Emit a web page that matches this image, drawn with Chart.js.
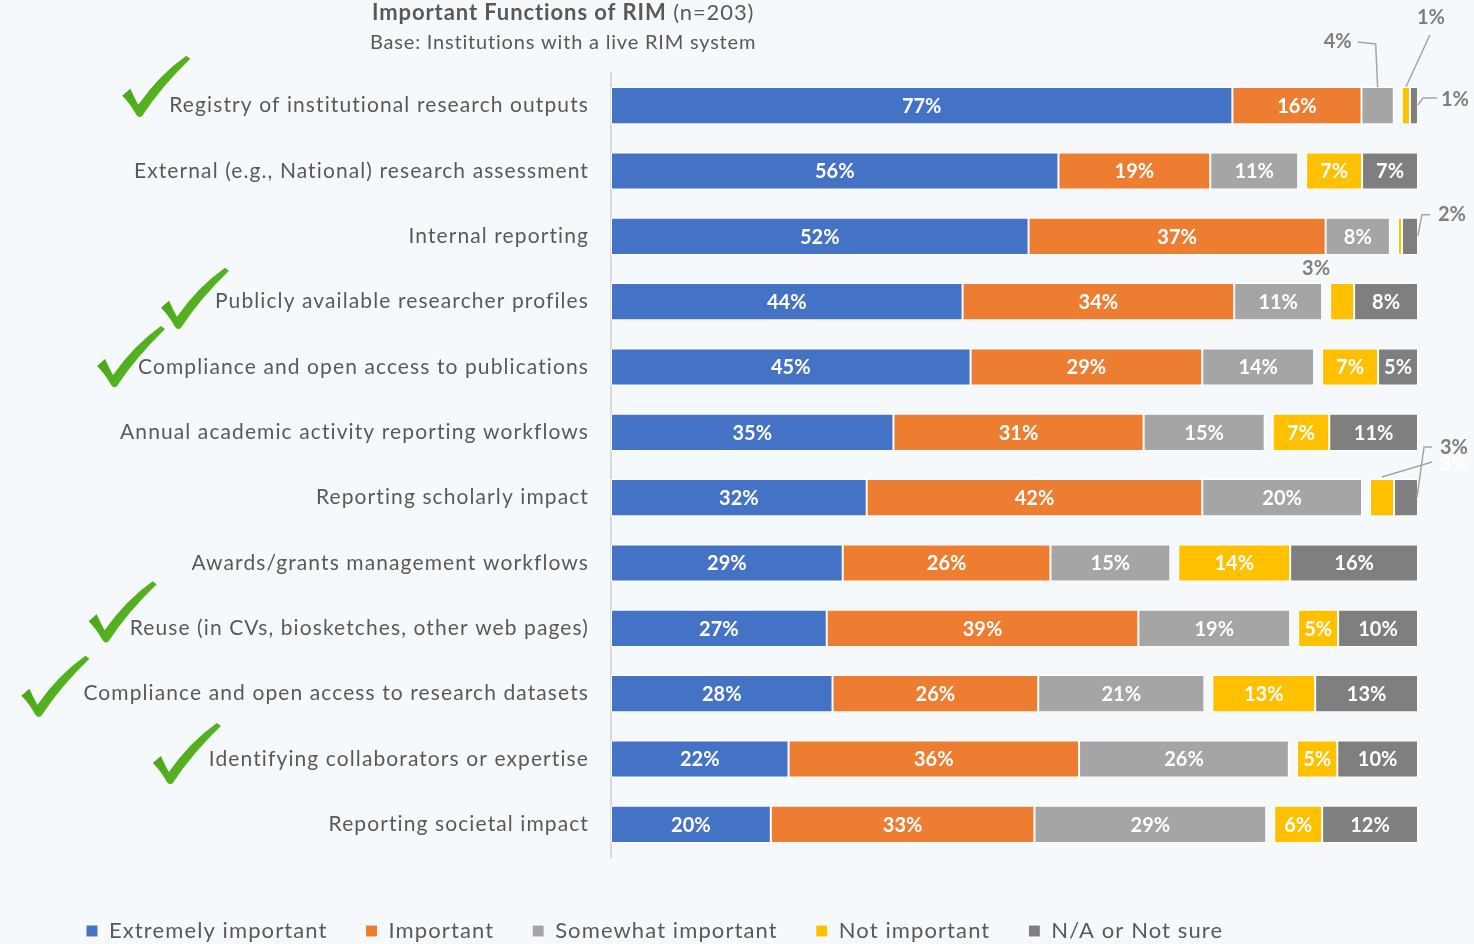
<!DOCTYPE html>
<html>
<head>
<meta charset="utf-8">
<script src="https://cdn.jsdelivr.net/npm/chart.js@4.4.1/dist/chart.umd.min.js"></script>
<style>
  html, body { margin: 0; padding: 0; background: #F6F9FB; overflow: hidden; }
  #wrap { width: 1474px; height: 944px; position: relative; }
</style>
</head>
<body>
<div id="wrap"><canvas id="myChart"></canvas></div>
<script>
// 카테고리
const categories = [
  'Registry of institutional research outputs',
  'External (e.g., National) research assessment',
  'Internal reporting',
  'Publicly available researcher profiles',
  'Compliance and open access to publications',
  'Annual academic activity reporting workflows',
  'Reporting scholarly impact',
  'Awards/grants management workflows',
  'Reuse (in CVs, biosketches, other web pages)',
  'Compliance and open access to research datasets',
  'Identifying collaborators or expertise',
  'Reporting societal impact'
];

// 응답 비율 (%)
const extremely    = [77, 56, 52, 44, 45, 35, 32, 29, 27, 28, 22, 20];
const important    = [16, 19, 37, 34, 29, 31, 42, 26, 39, 26, 36, 33];
const somewhat     = [4, 11, 8, 11, 14, 15, 20, 15, 19, 21, 26, 29];
const notImportant = [1, 7, 0.5, 3, 7, 7, 3, 14, 5, 13, 5, 6];
const naNotSure    = [1, 7, 2, 8, 5, 11, 3, 16, 10, 13, 10, 12];
// 중요 / 중요하지 않음 사이의 빈 칸
const spacer       = [1, 1, 1, 1, 1, 1, 1, 1, 1, 1, 1, 1];

// 체크 표시된 항목
const checked = [true, false, false, true, true, false, false, false, true, true, true, false];

const seriesNames  = ['Extremely important', 'Important', 'Somewhat important', '', 'Not important', 'N/A or Not sure'];
const seriesValues = [extremely, important, somewhat, spacer, notImportant, naNotSure];
const seriesColors = ['#4472C4', '#ED7D31', '#A5A5A5', 'rgba(0,0,0,0)', '#FFC000', '#7F7F7F'];

// 100% 누적 막대 (행 합계로 나눔)
const rowTotals = categories.map((_, i) => seriesValues.reduce((s, arr) => s + arr[i], 0));

const datasets = seriesValues.map((arr, k) => ({
  label: seriesNames[k],
  data: arr.map((v, i) => v / rowTotals[i] * 100),
  raw: arr,
  backgroundColor: seriesColors[k],
  borderColor: k === 3 ? 'rgba(0,0,0,0)' : '#FFFFFF',
  borderWidth: 1,
  borderSkipped: false,
  barPercentage: 0.57,
  categoryPercentage: 1
}));

// 작은 값 라벨 위치 (세그먼트 위쪽 중앙 기준)
const callouts = {
  '0-2': { at: [-40, -45], line: [[-20, -45], [-2, -43], [0, 0]] },
  '0-4': { at: [25, -69], line: [[24, -52], [0, 0]] },
  '0-5': { at: [41, 13], line: [[23, 11], [9, 11], [4, 18]] },
  '2-5': { at: [42, -3], line: [[20, -3], [12, -3], [8, 18]] },
  '3-4': { at: [-26, -14] },
  '6-4': { at: [72, -14], line: [[0, -2], [50, -17]], color: '#FFFFFF' },
  '6-5': { at: [48, -31], line: [[11, 18], [18, -32], [26, -32]] }
};

// 체크 표시 위치 (라벨 왼쪽 끝 기준, 꼭짓점)
const checkOffsets = { 0: [-30, 9], 3: [-37, 25], 4: [-24, 18], 8: [-24, 12], 9: [-45, 21], 10: [-39, 23] };

const labelFont = { family: 'Lato', size: 21 };
const spacing = '1.1px'; // 원본 글자 간격 흉내

function drawCheck(ctx, x, y) {
  ctx.save();
  ctx.translate(x, y);
  const g = ctx.createLinearGradient(-15, -58, 50, 2);
  g.addColorStop(0, '#3F9C12');
  g.addColorStop(1, '#66C22B');
  ctx.fillStyle = g;
  ctx.beginPath();
  ctx.moveTo(-17, -19);
  ctx.lineTo(-9, -26);
  ctx.quadraticCurveTo(-5, -17, -1, -10);
  ctx.quadraticCurveTo(20, -40, 47, -59);
  ctx.lineTo(51, -56);
  ctx.quadraticCurveTo(22, -28, 3, 1);
  ctx.quadraticCurveTo(0, 4, -3, 0);
  ctx.quadraticCurveTo(-9, -11, -17, -19);
  ctx.closePath();
  ctx.fill();
  ctx.restore();
}

const decorPlugin = {
  id: 'decor',
  beforeLayout(chart) { chart.ctx.letterSpacing = spacing; },
  afterLayout(chart) { chart.ctx.letterSpacing = '0px'; },
  beforeDraw(chart) { chart.ctx.letterSpacing = spacing; },
  beforeDatasetsDraw(chart) { chart.ctx.letterSpacing = '0px'; },
  afterDraw(chart) {
    const ctx = chart.ctx;
    ctx.save();
    // 제목
    ctx.fillStyle = '#595959';
    ctx.textBaseline = 'middle';
    ctx.textAlign = 'left';
    ctx.letterSpacing = '0.9px';
    ctx.font = 'bold 22px Lato';
    const t1 = 'Important Functions of RIM';
    ctx.fillText(t1, 372, 13);
    const w1 = ctx.measureText(t1).width;
    ctx.font = '22px Lato';
    ctx.fillText(' (n=203)', 372 + w1, 13);
    ctx.letterSpacing = '0.8px';
    ctx.font = '20px Lato';
    ctx.fillText('Base: Institutions with a live RIM system', 370, 43);

    // 체크 표시
    const yScale = chart.scales.y;
    ctx.letterSpacing = spacing;
    ctx.font = labelFont.size + 'px ' + labelFont.family;
    categories.forEach((c, i) => {
      if (!checked[i]) return;
      const w = ctx.measureText(c).width;
      const left = yScale.right - 22 - w;
      const cy = yScale.getPixelForValue(i);
      const off = checkOffsets[i];
      drawCheck(ctx, left + off[0], cy + off[1]);
    });
    ctx.restore();
    ctx.letterSpacing = '0px';
  },
  afterDatasetsDraw(chart) {
    const ctx = chart.ctx;
    ctx.save();
    ctx.textAlign = 'center';
    ctx.textBaseline = 'middle';
    chart.data.datasets.forEach((ds, k) => {
      if (k === 3) return;
      chart.getDatasetMeta(k).data.forEach((el, i) => {
        const v = ds.raw[i];
        const txt = Math.round(v) + '%';
        const cx = (el.x + el.base) / 2;
        if (v >= 5) {
          ctx.font = 'bold 20px Lato';
          ctx.fillStyle = '#FFFFFF';
          ctx.fillText(txt, cx, el.y + 1);
          return;
        }
        const co = callouts[i + '-' + k];
        if (!co) return;
        const top = el.y - el.height / 2;
        if (co.line) {
          ctx.strokeStyle = '#A5A5A5';
          ctx.lineWidth = 1.5;
          ctx.beginPath();
          co.line.forEach((p, j) => {
            if (j === 0) ctx.moveTo(cx + p[0], top + p[1]);
            else ctx.lineTo(cx + p[0], top + p[1]);
          });
          ctx.stroke();
        }
        ctx.font = 'bold 20px Lato';
        ctx.fillStyle = co.color || '#7F7F7F';
        ctx.fillText(txt, cx + co.at[0], top + co.at[1]);
      });
    });
    ctx.restore();
  }
};

const canvas = document.getElementById('myChart');
const myChart = new Chart(canvas.getContext('2d'), {
  type: 'bar',
  data: { labels: categories, datasets: datasets },
  options: {
    indexAxis: 'y',
    responsive: true,
    maintainAspectRatio: false,
    animation: false,
    layout: { padding: { top: 73, left: 48, right: 56, bottom: -8 } },
    scales: {
      x: {
        stacked: true,
        min: 0,
        max: 100,
        ticks: { display: false },
        grid: { display: false },
        border: { display: false },
        afterFit: (s) => { s.height = 25; }
      },
      y: {
        stacked: true,
        grid: { display: false, drawTicks: false },
        border: { display: true, color: '#D9D9D9', width: 2 },
        ticks: { color: '#595959', font: labelFont, padding: 22 },
        afterFit: (s) => { s.width = 563; }
      }
    },
    plugins: {
      legend: {
        position: 'bottom',
        align: 'start',
        labels: {
          color: '#595959',
          font: { family: 'Lato', size: 22 },
          boxWidth: 12,
          boxHeight: 12,
          padding: 38,
          filter: (item) => item.datasetIndex !== 3
        }
      },
      tooltip: { enabled: false }
    }
  },
  plugins: [decorPlugin]
});
</script>
</body>
</html>
